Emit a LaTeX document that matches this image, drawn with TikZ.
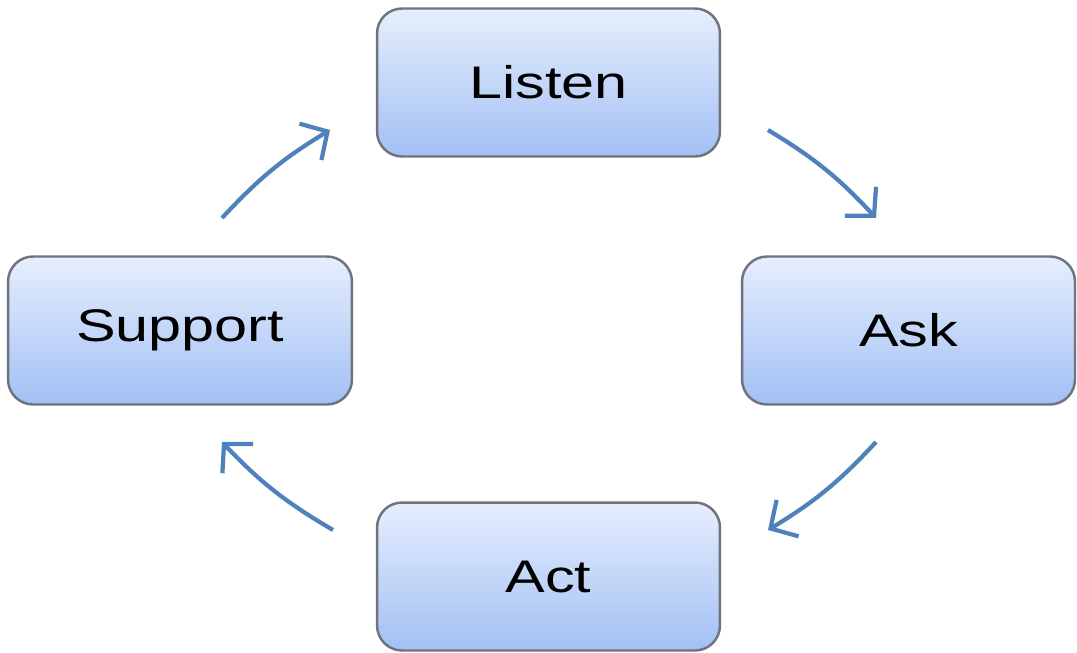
\documentclass[tikz,border=0pt]{standalone}
\usepackage{fontspec}
\setmainfont{Liberation Sans}
\usetikzlibrary{arrows.meta}
\definecolor{boxtop}{HTML}{E6EEFD}
\definecolor{boxbot}{HTML}{A2C0F4}
\definecolor{boxline}{HTML}{6E737C}
\definecolor{arrowblue}{HTML}{4F81BD}
\newcommand{\widetext}[1]{\scalebox{1.3}[1]{#1}}
\begin{document}
\begin{tikzpicture}[x=0.02cm,y=-0.02cm,
  stage/.style={draw=boxline,line width=1.4pt,rounded corners=0.5cm,top color=boxtop,bottom color=boxbot,
    minimum height=2.96cm,font=\fontsize{26}{30}\selectfont},
  cyc/.style={arrowblue,line width=2.4pt,-{Straight Barb[length=4mm,width=8.5mm,line width=2.4pt]},bend left=8}]
\useasboundingbox (0,0) rectangle (1077,652);
\node[stage,minimum width=6.86cm] (listen) at (548.5,82.5) {\widetext{Listen}};
\node[stage,minimum width=6.66cm] (ask) at (908.5,330.5) {\widetext{Ask}};
\node[stage,minimum width=6.86cm] (act) at (548.5,576.5) {\widetext{Act}};
\node[stage,minimum width=6.88cm] (support) at (180,330.5) {\widetext{Support}};
\coordinate (c1) at (768,130);
\coordinate (c2) at (876,218);
\coordinate (c3) at (876,442);
\coordinate (c4) at (768,530);
\coordinate (c5) at (333,530);
\coordinate (c6) at (222,442);
\coordinate (c7) at (222,218);
\coordinate (c8) at (330,130);
\draw[cyc] (c1) to (c2);
\draw[cyc] (c3) to (c4);
\draw[cyc] (c5) to (c6);
\draw[cyc] (c7) to (c8);
\end{tikzpicture}
\end{document}
